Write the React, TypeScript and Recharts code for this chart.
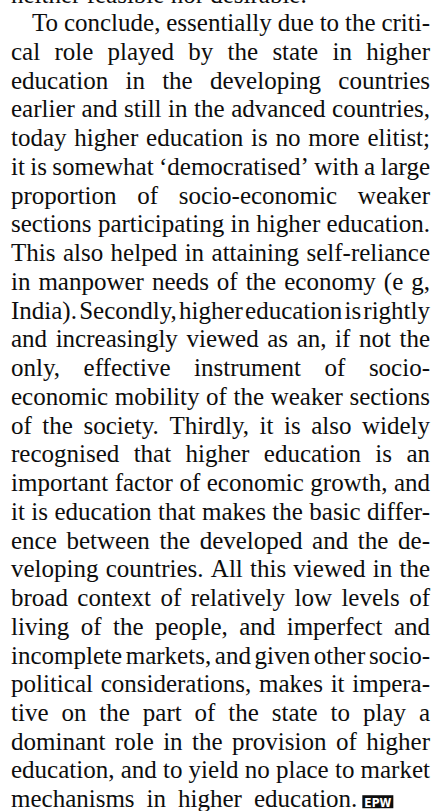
import { Surface, Layer } from 'recharts';

const W = 433;
const H = 811;
const FONT = '"Liberation Serif", "Times New Roman", serif';
const SIZE = 25;
const LEFT = 11;
const RIGHT = 430;
const INDENT = 32;
const FIRST_BASELINE = 2.5;
const LINE_STEP = 28.74;
const LAST_LINE_GAP = 12;

// tail of the previous paragraph, cut by the top edge
const prevTail = ['neither feasible nor desirable.'];

const paragraph = [
  'To conclude, essentially due to the criti-',
  'cal role played by the state in higher',
  'education in the developing countries',
  'earlier and still in the advanced countries,',
  'today higher education is no more elitist;',
  'it is somewhat \u2018democratised\u2019 with a large',
  'proportion of socio-economic weaker',
  'sections participating in higher education.',
  'This also helped in attaining self-reliance',
  'in manpower needs of the economy (e g,',
  'India). Secondly, higher education is rightly',
  'and increasingly viewed as an, if not the',
  'only, effective instrument of socio-',
  'economic mobility of the weaker sections',
  'of the society. Thirdly, it is also widely',
  'recognised that higher education is an',
  'important factor of economic growth, and',
  'it is education that makes the basic differ-',
  'ence between the developed and the de-',
  'veloping countries. All this viewed in the',
  'broad context of relatively low levels of',
  'living of the people, and imperfect and',
  'incomplete markets, and given other socio-',
  'political considerations, makes it impera-',
  'tive on the part of the state to play a',
  'dominant role in the provision of higher',
  'education, and to yield no place to market',
  'mechanisms in higher education.',
];

const logoText = 'EPW';

let ctx: CanvasRenderingContext2D | null = null;
function measure(s: string) {
  if (!ctx) ctx = document.createElement('canvas').getContext('2d');
  if (!ctx) return s.length * SIZE * 0.45;
  ctx.font = `${SIZE}px ${FONT}`;
  return ctx.measureText(s).width;
}

type Word = { text: string; x: number };

function layoutLine(text: string, x0: number, justify: boolean, fixedGap?: number) {
  const words = text.split(' ');
  const widths = words.map(measure);
  const total = widths.reduce((a, b) => a + b, 0);
  let gap = fixedGap ?? measure(' ');
  if (justify && words.length > 1) gap = (RIGHT - x0 - total) / (words.length - 1);
  const out: Word[] = [];
  let x = x0;
  words.forEach((w, i) => {
    out.push({ text: w, x });
    x += widths[i] + gap;
  });
  return { words: out, end: x - gap };
}

export default function App() {
  const rows: { words: Word[]; y: number; end: number }[] = [];

  prevTail.forEach((t) => {
    const l = layoutLine(t, LEFT, false);
    rows.push({ ...l, y: FIRST_BASELINE });
  });

  paragraph.forEach((t, i) => {
    const isLast = i === paragraph.length - 1;
    const x0 = i === 0 ? INDENT : LEFT;
    const l = layoutLine(t, x0, !isLast, isLast ? LAST_LINE_GAP : undefined);
    rows.push({ ...l, y: FIRST_BASELINE + (i + 1) * LINE_STEP });
  });

  const last = rows[rows.length - 1];
  const logoX = last.end + 5;
  const logoBottom = last.y + 1;

  return (
    <div style={{ position: 'absolute', left: 0, top: 0, width: W, height: H, background: '#fff' }}>
      <Surface width={W} height={H}>
        <Layer>
          {rows.map((r, ri) =>
            r.words.map((w, wi) => (
              <text
                key={`${ri}-${wi}`}
                x={w.x}
                y={r.y}
                fontFamily={FONT}
                fontSize={SIZE}
                fill="#0d0d0d"
              >
                {w.text}
              </text>
            ))
          )}
          <rect x={logoX} y={logoBottom - 13} width={31} height={13} fill="#0d0d0d" />
          <text
            x={logoX + 2}
            y={logoBottom - 1.5}
            fontFamily='"DejaVu Sans", sans-serif'
            fontWeight="bold"
            fontSize={13}
            fill="#fff"
            textLength={27}
            lengthAdjust="spacingAndGlyphs"
          >
            {logoText}
          </text>
        </Layer>
      </Surface>
    </div>
  );
}
